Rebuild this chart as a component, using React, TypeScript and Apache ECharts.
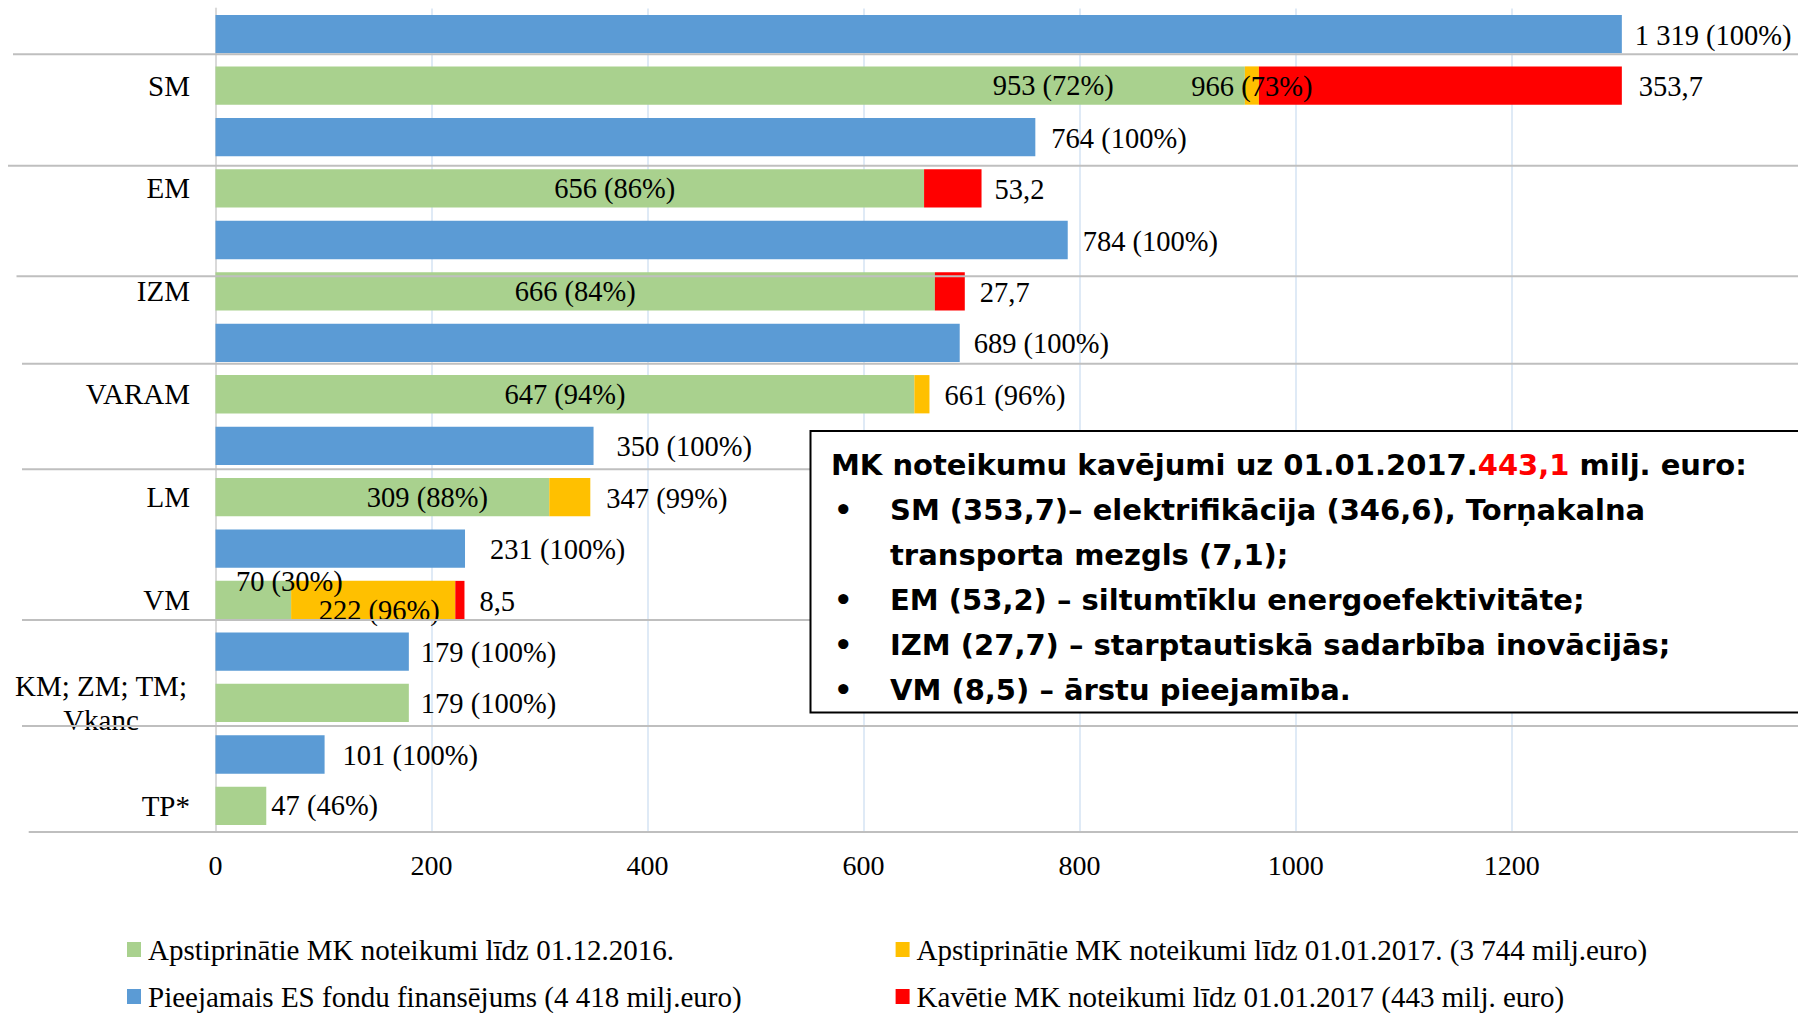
import React, { useEffect, useRef } from 'react';
import * as echarts from 'echarts';

// ---------- data ----------
const categories = ['SM', 'EM', 'IZM', 'VARAM', 'LM', 'VM', 'KM; ZM; TM;\nVkanc', 'TP*'];

const nameAvailable = 'Pieejamais ES fondu finansējums (4 418 milj.euro)';
const nameApprovedDec = 'Apstiprinātie MK noteikumi līdz 01.12.2016.';
const nameApprovedJan = 'Apstiprinātie MK noteikumi līdz 01.01.2017. (3 744 milj.euro)';
const nameDelayed = 'Kavētie MK noteikumi līdz 01.01.2017 (443 milj. euro)';

// bar lengths as drawn in the picture (milj. euro)
const availableValues = [1302, 759, 789, 689, 350, 231, 179, 101];
const approvedDecValues = [953, 656, 666, 647, 309, 70, 179, 47];
const approvedJanValues = [13, 0, 0, 14, 38, 152, 0, 0];
const delayedValues = [336, 53.2, 27.7, 0, 0, 8.5, 0, 0];

// label texts printed on the chart
const availableLabels = ['1 319 (100%)', '764 (100%)', '784 (100%)', '689 (100%)', '350 (100%)', '231 (100%)', '179 (100%)', '101 (100%)'];
const approvedDecLabels = ['953 (72%)', '656 (86%)', '666 (84%)', '647 (94%)', '309 (88%)', '70 (30%)', '179 (100%)', '47 (46%)'];
const approvedJanLabels = ['966 (73%)', '', '', '661 (96%)', '347 (99%)', '222 (96%)', '', ''];
const delayedLabels = ['353,7', '53,2', '27,7', '', '', '8,5', '', ''];

const xMin = 0;
const xMax = 1400;
const xInterval = 200;

// ---------- label placement (style) ----------
type Place = [string, number, number] | null;
const availablePlace: Place[] = [
  ['right', 13, 1], ['right', 16, 1], ['right', 15, 1], ['right', 14, 1],
  ['right', 23, 1], ['right', 25, 1], ['right', 12, 1], ['right', 18, 1],
];
const approvedDecPlace: Place[] = [
  ['inside', 323, 0], ['inside', 45, 0], ['inside', 0, 0], ['inside', 0, 0],
  ['inside', 45, 0], ['inside', 36, -19], ['right', 12, 1], ['right', 5, 0],
];
const approvedJanPlace: Place[] = [
  ['inside', 0, 1], null, null, ['right', 15, 1], ['right', 16, 1], ['inside', 6, 10], null, null,
];
const delayedPlace: Place[] = [
  ['right', 17, 1], ['right', 13, 1], ['right', 15, 1], null, null, ['right', 15, 1], null, null,
];

const SERIF = "'Liberation Serif', 'Times New Roman', serif";
const SANS = "'DejaVu Sans', Verdana, sans-serif";

function makeData(values: number[], labels: string[], places: Place[]) {
  return values.map((v, i) => {
    const p = places[i];
    const t = labels[i];
    if (!t || !p) return { value: v, label: { show: false } };
    return {
      value: v,
      label: {
        show: true,
        position: p[0],
        distance: 0,
        offset: [p[1], p[2]],
        formatter: t,
      },
    };
  });
}

export default function App() {
  const ref = useRef<HTMLDivElement>(null);

  useEffect(() => {
    if (!ref.current) return;
    const chart = echarts.init(ref.current, undefined, { renderer: 'svg' });

    const labelStyle = { color: '#000', fontSize: 28.5, fontFamily: SERIF };
    const barCommon = {
      type: 'bar',
      barWidth: 38.3,
      barGap: '34%',
      emphasis: { disabled: true },
      label: { ...labelStyle },
    };

    const sepLines = [
      [13, 54.3], [8, 165.7], [16.5, 276.3], [22, 363.7], [22, 469.3], [22, 620], [22, 726], [28.7, 832],
    ].map(([x, y]) => ({
      type: 'line',
      z: 10,
      shape: { x1: x, y1: y, x2: 1798, y2: y },
      style: { stroke: '#bfbfbf', lineWidth: 2 },
    }));

    const boxFont = { fontSize: 29, fontFamily: SANS, fontWeight: 'bold' };
    const bulletLines = [
      { y: 510, text: 'SM (353,7)– elektrifikācija (346,6), Torņakalna', bullet: true },
      { y: 555, text: 'transporta mezgls (7,1);', bullet: false },
      { y: 599.5, text: 'EM (53,2) – siltumtīklu energoefektivitāte;', bullet: true },
      { y: 644.5, text: 'IZM (27,7) – starptautiskā sadarbība inovācijās;', bullet: true },
      { y: 689.5, text: 'VM (8,5) – ārstu pieejamība.', bullet: true },
    ];
    const boxTexts: any[] = [];
    bulletLines.forEach((l) => {
      if (l.bullet) {
        boxTexts.push({
          type: 'text', z: 22, x: 834, y: l.y,
          style: { text: '•', fill: '#000', ...boxFont, verticalAlign: 'middle' },
        });
      }
      boxTexts.push({
        type: 'text', z: 22, x: 890, y: l.y,
        style: { text: l.text, fill: '#000', ...boxFont, verticalAlign: 'middle' },
      });
    });

    const legendCommon = {
      padding: 0,
      icon: 'rect',
      itemWidth: 14,
      itemHeight: 15,
      selectedMode: false,
      itemStyle: { borderWidth: 0 },
      textStyle: { color: '#000', fontSize: 29, fontFamily: SERIF, padding: [0, 0, 0, 2] },
    };

    const option: any = {
      animation: false,
      backgroundColor: '#fff',
      textStyle: { fontFamily: SERIF },
      grid: {
        left: 215.5, right: 70.3, top: 8.43, bottom: 181.4,
        containLabel: false, outerBoundsMode: 'none',
      },
      xAxis: {
        type: 'value',
        min: xMin,
        max: xMax,
        interval: xInterval,
        axisLine: { show: false },
        axisTick: { show: false },
        axisLabel: {
          color: '#000', fontSize: 28, fontFamily: SERIF, margin: 20,
          showMaxLabel: false, hideOverlap: false,
          formatter: (v: number) => String(v),
        },
        splitLine: {
          show: true, showMinLine: false, showMaxLine: false,
          lineStyle: { color: '#d5e3f3', width: 1.5 },
        },
      },
      yAxis: {
        type: 'category',
        inverse: true,
        data: categories,
        axisTick: { show: false },
        axisLine: { show: true, lineStyle: { color: '#d9d9d9', width: 2 } },
        splitLine: { show: false },
        axisLabel: {
          interval: 0,
          color: '#000',
          fontSize: 29,
          fontFamily: SERIF,
          margin: 25.5,
          padding: [51.4, 0, 0, 0],
          formatter: (v: string) =>
            v.indexOf('\n') >= 0 ? v.split('\n').map((s) => `{c|${s}}`).join('\n') : v,
          rich: {
            c: { width: 178, align: 'center', fontSize: 29, fontFamily: SERIF, color: '#000', lineHeight: 34 },
          },
        },
      },
      legend: [
        { ...legendCommon, data: [nameApprovedDec], left: 127, top: 935 },
        { ...legendCommon, data: [nameApprovedJan], left: 895.6, top: 935 },
        { ...legendCommon, data: [nameAvailable], left: 127, top: 982 },
        { ...legendCommon, data: [nameDelayed], left: 895.6, top: 982 },
      ],
      series: [
        {
          ...barCommon,
          name: nameAvailable,
          itemStyle: { color: '#5B9BD5' },
          data: makeData(availableValues, availableLabels, availablePlace),
        },
        {
          ...barCommon,
          name: nameApprovedDec,
          stack: 'approved',
          itemStyle: { color: '#A9D18E' },
          data: makeData(approvedDecValues, approvedDecLabels, approvedDecPlace),
        },
        {
          ...barCommon,
          name: nameApprovedJan,
          stack: 'approved',
          itemStyle: { color: '#FFC000' },
          data: makeData(approvedJanValues, approvedJanLabels, approvedJanPlace),
        },
        {
          ...barCommon,
          name: nameDelayed,
          stack: 'approved',
          itemStyle: { color: '#FF0000' },
          data: makeData(delayedValues, delayedLabels, delayedPlace),
        },
      ],
      graphic: [
        ...sepLines,
        {
          type: 'rect', z: 20,
          shape: { x: 810.5, y: 431, width: 1000, height: 281.5 },
          style: { fill: '#fff', stroke: '#000', lineWidth: 2 },
        },
        {
          type: 'text', z: 22, x: 831, y: 465,
          style: {
            text: '{a|MK noteikumu kavējumi uz 01.01.2017.}{r|443,1}{a| milj. euro:}',
            ...boxFont,
            fill: '#000',
            verticalAlign: 'middle',
            rich: {
              a: { ...boxFont, fill: '#000' },
              r: { ...boxFont, fill: '#ff0000' },
            },
          },
        },
        ...boxTexts,
      ],
    };

    chart.setOption(option);
    return () => chart.dispose();
  }, []);

  return (
    <div
      ref={ref}
      style={{ position: 'fixed', left: 0, top: 0, width: 1798, height: 1013, background: '#fff' }}
    />
  );
}
